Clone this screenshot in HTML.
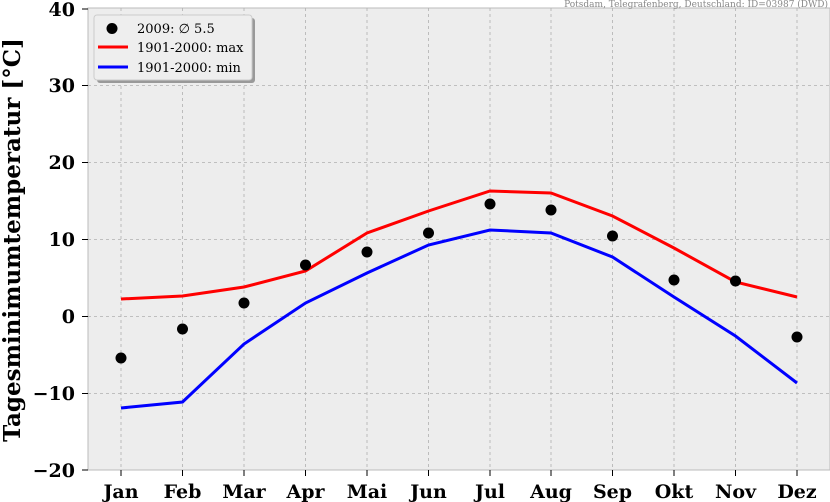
<!DOCTYPE html>
<html><head><style>body{margin:0;background:#fff}svg{display:block}</style></head><body>
<svg width="830" height="502" xmlns="http://www.w3.org/2000/svg" font-family="DejaVu Serif, Liberation Serif, serif">
<rect x="88" y="8" width="742" height="462" fill="#ededed" stroke="#bbb" stroke-width="1"/>
<g stroke="#b0b0b0" stroke-dasharray="3,3" stroke-width="0.8">
<line x1="88" x2="830" y1="85.5" y2="85.5"/><line x1="88" x2="830" y1="162.5" y2="162.5"/><line x1="88" x2="830" y1="239.5" y2="239.5"/><line x1="88" x2="830" y1="316.5" y2="316.5"/><line x1="88" x2="830" y1="393.5" y2="393.5"/>
<line x1="121" x2="121" y1="8" y2="470"/><line x1="182.5" x2="182.5" y1="8" y2="470"/><line x1="244" x2="244" y1="8" y2="470"/><line x1="305.5" x2="305.5" y1="8" y2="470"/><line x1="367" x2="367" y1="8" y2="470"/><line x1="428.5" x2="428.5" y1="8" y2="470"/><line x1="490" x2="490" y1="8" y2="470"/><line x1="551" x2="551" y1="8" y2="470"/><line x1="612.5" x2="612.5" y1="8" y2="470"/><line x1="674" x2="674" y1="8" y2="470"/><line x1="735.5" x2="735.5" y1="8" y2="470"/><line x1="797" x2="797" y1="8" y2="470"/>
</g>
<g stroke="#000" stroke-width="1">
<line x1="82" x2="88" y1="9" y2="9"/><line x1="82" x2="88" y1="85.5" y2="85.5"/><line x1="82" x2="88" y1="162.5" y2="162.5"/><line x1="82" x2="88" y1="239.5" y2="239.5"/><line x1="82" x2="88" y1="316.5" y2="316.5"/><line x1="82" x2="88" y1="393.5" y2="393.5"/><line x1="82" x2="88" y1="470" y2="470"/>
<line x1="121" x2="121" y1="470" y2="476"/><line x1="182.5" x2="182.5" y1="470" y2="476"/><line x1="244" x2="244" y1="470" y2="476"/><line x1="305.5" x2="305.5" y1="470" y2="476"/><line x1="367" x2="367" y1="470" y2="476"/><line x1="428.5" x2="428.5" y1="470" y2="476"/><line x1="490" x2="490" y1="470" y2="476"/><line x1="551" x2="551" y1="470" y2="476"/><line x1="612.5" x2="612.5" y1="470" y2="476"/><line x1="674" x2="674" y1="470" y2="476"/><line x1="735.5" x2="735.5" y1="470" y2="476"/><line x1="797" x2="797" y1="470" y2="476"/>
</g>
<polyline fill="none" stroke="#ff0000" stroke-width="3" points="121,299 182.5,296 244,287 305.5,271 367,233 428.5,211 490,191 551,193 612.5,216 674,248 735.5,282 797,297"/>
<polyline fill="none" stroke="#0000ff" stroke-width="3" points="121,408 182.5,402 244,344 305.5,303 367,273 428.5,245 490,230 551,233 612.5,257 674,297 735.5,336 797,383"/>
<g fill="#000">
<circle cx="121" cy="358" r="5.5"/><circle cx="182.5" cy="329" r="5.5"/><circle cx="244" cy="303" r="5.5"/><circle cx="305.5" cy="265" r="5.5"/><circle cx="367" cy="252" r="5.5"/><circle cx="428.5" cy="233" r="5.5"/><circle cx="490" cy="204" r="5.5"/><circle cx="551" cy="210" r="5.5"/><circle cx="612.5" cy="236" r="5.5"/><circle cx="674" cy="280" r="5.5"/><circle cx="735.5" cy="281" r="5.5"/><circle cx="797" cy="337" r="5.5"/>
</g>
<rect x="97" y="18" width="158" height="65" rx="3" fill="#999"/>
<rect x="94" y="15" width="158" height="65" rx="3" fill="#eeeeee" stroke="#ccc"/>
<circle cx="112" cy="28.5" r="5.5" fill="#000"/>
<line x1="98" x2="128" y1="47" y2="47" stroke="#f00" stroke-width="3"/>
<line x1="98" x2="128" y1="67" y2="67" stroke="#00f" stroke-width="3"/>
<g font-size="13" fill="#000">
<text x="137" y="33">2009: ∅ 5.5</text>
<text x="137" y="52">1901-2000: max</text>
<text x="137" y="72">1901-2000: min</text>
</g>
<text x="828" y="7" font-size="9" fill="#888" text-anchor="end">Potsdam, Telegrafenberg, Deutschland: ID=03987 (DWD)</text>
<g font-size="19" font-weight="bold" text-anchor="end" fill="#000">
<text x="75" y="16">40</text><text x="75" y="92">30</text><text x="75" y="169">20</text><text x="75" y="246">10</text><text x="75" y="323">0</text><text x="75" y="400">−10</text><text x="75" y="477">−20</text>
</g>
<g font-size="19" font-weight="bold" text-anchor="middle" fill="#000">
<text x="121" y="498">Jan</text><text x="182.5" y="498">Feb</text><text x="244" y="498">Mar</text><text x="305.5" y="498">Apr</text><text x="367" y="498">Mai</text><text x="428.5" y="498">Jun</text><text x="490" y="498">Jul</text><text x="551" y="498">Aug</text><text x="612.5" y="498">Sep</text><text x="674" y="498">Okt</text><text x="735.5" y="498">Nov</text><text x="797" y="498">Dez</text>
</g>
<text transform="translate(20,240) rotate(-90)" font-size="23" font-weight="bold" text-anchor="middle">Tagesminimumtemperatur [°C]</text>
</svg>
</body></html>
